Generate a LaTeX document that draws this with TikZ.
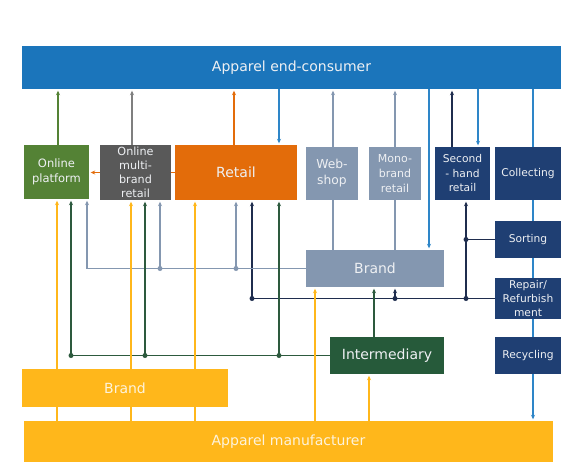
\documentclass[tikz,border=0pt]{standalone}
\usepackage{fontspec}
\setmainfont{DejaVu Sans}
\usetikzlibrary{arrows.meta,backgrounds,calc}
\definecolor{cblue}{HTML}{1B75BB}
\definecolor{lblue}{HTML}{2E86C8}
\definecolor{opgreen}{HTML}{548235}
\definecolor{ombgrey}{HTML}{595959}
\definecolor{lgrey}{HTML}{7F7F7F}
\definecolor{retorange}{HTML}{E36C0A}
\definecolor{gblue}{HTML}{8497B0}
\definecolor{navy}{HTML}{1F3F73}
\definecolor{navyline}{HTML}{1F2D4E}
\definecolor{intgreen}{HTML}{265A3A}
\definecolor{dgline}{HTML}{2D5A3E}
\definecolor{yel}{HTML}{FFB71B}
\definecolor{txt}{HTML}{EEF0F3}
\definecolor{ytxt}{HTML}{FDF3DC}
\newcommand{\fsz}[2]{\fontsize{#1}{#2}\selectfont}
\begin{document}
\begin{tikzpicture}[x=1pt,y=-1pt,
  box/.style={draw=none, inner sep=0pt, align=center, text=txt},
  arr/.style={-{Stealth[length=4.5pt,width=4pt]}, shorten >=1.5pt, line width=1.3pt},
  ln/.style={line width=1.3pt},
  dotc/.style={radius=2.5pt}]
\useasboundingbox (0,0) rectangle (576,475);
% boxes
\node[box, fill=cblue, minimum width=539pt, minimum height=43pt, font=\fsz{14}{17}] (cons) at (291.5,67.5) {Apparel end-consumer};
\node[box, fill=opgreen, minimum width=65pt, minimum height=54pt, font=\fsz{11.5}{15}] (op) at (56.5,172) {Online\\platform};
\node[box, fill=ombgrey, minimum width=71pt, minimum height=55pt, font=\fsz{11.2}{14}] (omb) at (135.5,172.5) {Online\\multi-\\brand\\retail};
\node[box, fill=retorange, minimum width=122pt, minimum height=55pt, font=\fsz{14}{17}] (ret) at (236,172.5) {Retail};
\node[box, fill=gblue, minimum width=52pt, minimum height=53pt, font=\fsz{12.3}{16}] (web) at (332,173.5) {Web-\\shop};
\node[box, fill=gblue, minimum width=52pt, minimum height=53pt, font=\fsz{11}{15}] (mono) at (395,173.5) {Mono-\\brand\\retail};
\node[box, fill=navy, minimum width=55pt, minimum height=53pt, font=\fsz{10.7}{14.5}] (sh) at (462.5,173.5) {Second\\- hand\\retail};
\node[box, fill=navy, minimum width=66pt, minimum height=53pt, font=\fsz{10.7}{14}] (col) at (528,173.5) {Collecting};
\node[box, fill=navy, minimum width=66pt, minimum height=37pt, font=\fsz{10.7}{14}] (sort) at (528,239.5) {Sorting};
\node[box, fill=navy, minimum width=66pt, minimum height=41pt, font=\fsz{10.7}{14}] (rep) at (528,298.5) {Repair/\\Refurbish\\ment};
\node[box, fill=navy, minimum width=66pt, minimum height=37pt, font=\fsz{10.7}{14}] (recy) at (528,355.5) {Recycling};
\node[box, fill=gblue, minimum width=138pt, minimum height=37pt, font=\fsz{14}{17}] (brandg) at (375,268.5) {Brand};
\node[box, fill=intgreen, minimum width=114pt, minimum height=37pt, font=\fsz{14}{17}] (inter) at (387,355.5) {Intermediary};
\node[box, fill=yel, text=ytxt, minimum width=206pt, minimum height=38pt, font=\fsz{14}{17}] (brandy) at (125,388) {Brand};
\node[box, fill=yel, text=ytxt, minimum width=529pt, minimum height=41pt, font=\fsz{14}{17}] (man) at (288.5,441.5) {Apparel manufacturer};
% connectors
\begin{pgfonlayer}{background}
% up to consumer
\draw[arr,opgreen] ([xshift=1.5]op.north) -- ([xshift=1.5]op.north |- cons.south);
\draw[arr,lgrey] ([xshift=-3.5]omb.north) -- ([xshift=-3.5]omb.north |- cons.south);
\draw[arr,retorange] ([xshift=-2]ret.north) -- ([xshift=-2]ret.north |- cons.south);
\draw[arr,lblue] ([xshift=43]ret.north |- cons.south) -- ([xshift=43]ret.north);
\draw[arr,gblue] ([xshift=1]web.south |- brandg.north) -- ([xshift=1]web.north |- cons.south);
\draw[arr,gblue] (mono.south |- brandg.north) -- (mono.north |- cons.south);
\draw[arr,lblue] ([xshift=54]brandg.north |- cons.south) -- ([xshift=54]brandg.north);
\draw[arr,navyline] ([xshift=-10.5]sh.north) -- ([xshift=-10.5]sh.north |- cons.south);
\draw[arr,lblue] ([xshift=15.5]sh.north |- cons.south) -- ([xshift=15.5]sh.north);
\draw[arr,lblue] ([xshift=5]col.north |- cons.south) -- ([xshift=5]col.north |- man.north);
% orange retail -> online platform
\draw[arr,retorange] (ret.west) -- (op.east |- ret.west);
% navy network
\coordinate (n1) at ([xshift=3.5]sh.south |- sort.west);
\coordinate (n2) at ([xshift=3.5]sh.south |- rep.west);
\coordinate (n3) at ([xshift=20]brandg.south |- rep.west);
\coordinate (n4) at ([xshift=16]ret.south |- rep.west);
\draw[ln,navyline] (sort.west) -- (n1);
\draw[ln,navyline] (rep.west) -- (n4);
\draw[arr,navyline] (n2) -- ([xshift=3.5]sh.south);
\draw[arr,navyline] (n3) -- ([xshift=20]brandg.south);
\draw[arr,navyline] (n4) -- ([xshift=16]ret.south);
\fill[navyline] (n1) circle[dotc]; \fill[navyline] (n2) circle[dotc];
\fill[navyline] (n3) circle[dotc]; \fill[navyline] (n4) circle[dotc];
% grey-blue network
\coordinate (b1) at ([xshift=30.5]op.south |- brandg.west);
\coordinate (b2) at ([xshift=24.5]omb.south |- brandg.west);
\coordinate (b3) at (ret.south |- brandg.west);
\draw[ln,gblue] (brandg.west) -- (b1);
\draw[arr,gblue] (b1) -- ([xshift=30.5]op.south);
\draw[arr,gblue] (b2) -- ([xshift=24.5]omb.south);
\draw[arr,gblue] (b3) -- (ret.south);
\fill[gblue] (b2) circle[dotc]; \fill[gblue] (b3) circle[dotc];
% intermediary network
\coordinate (g1) at ([xshift=14.5]op.south |- inter.west);
\coordinate (g2) at ([xshift=9.5]omb.south |- inter.west);
\coordinate (g3) at ([xshift=43]ret.south |- inter.west);
\draw[ln,dgline] (inter.west) -- (g1);
\draw[arr,dgline] (g1) -- ([xshift=14.5]op.south);
\draw[arr,dgline] (g2) -- ([xshift=9.5]omb.south);
\draw[arr,dgline] (g3) -- ([xshift=43]ret.south);
\draw[arr,dgline] ([xshift=-13]inter.north) -- ([xshift=-13]inter.north |- brandg.south);
\fill[dgline] (g1) circle[dotc]; \fill[dgline] (g2) circle[dotc]; \fill[dgline] (g3) circle[dotc];
% yellow lines
\foreach \s/\t in {-68/op, 6/omb, 70/ret}{
  \draw[ln,yel] ([xshift=\s]brandy.south) -- ([xshift=\s]brandy.south |- man.north);
  \draw[arr,yel] ([xshift=\s]brandy.north) -- ([xshift=\s]brandy.north |- \t.south);
}
\draw[arr,yel] ([xshift=-60]brandg.south |- man.north) -- ([xshift=-60]brandg.south);
\draw[arr,yel] ([xshift=-18]inter.south |- man.north) -- ([xshift=-18]inter.south);
\end{pgfonlayer}
\end{tikzpicture}
\end{document}
